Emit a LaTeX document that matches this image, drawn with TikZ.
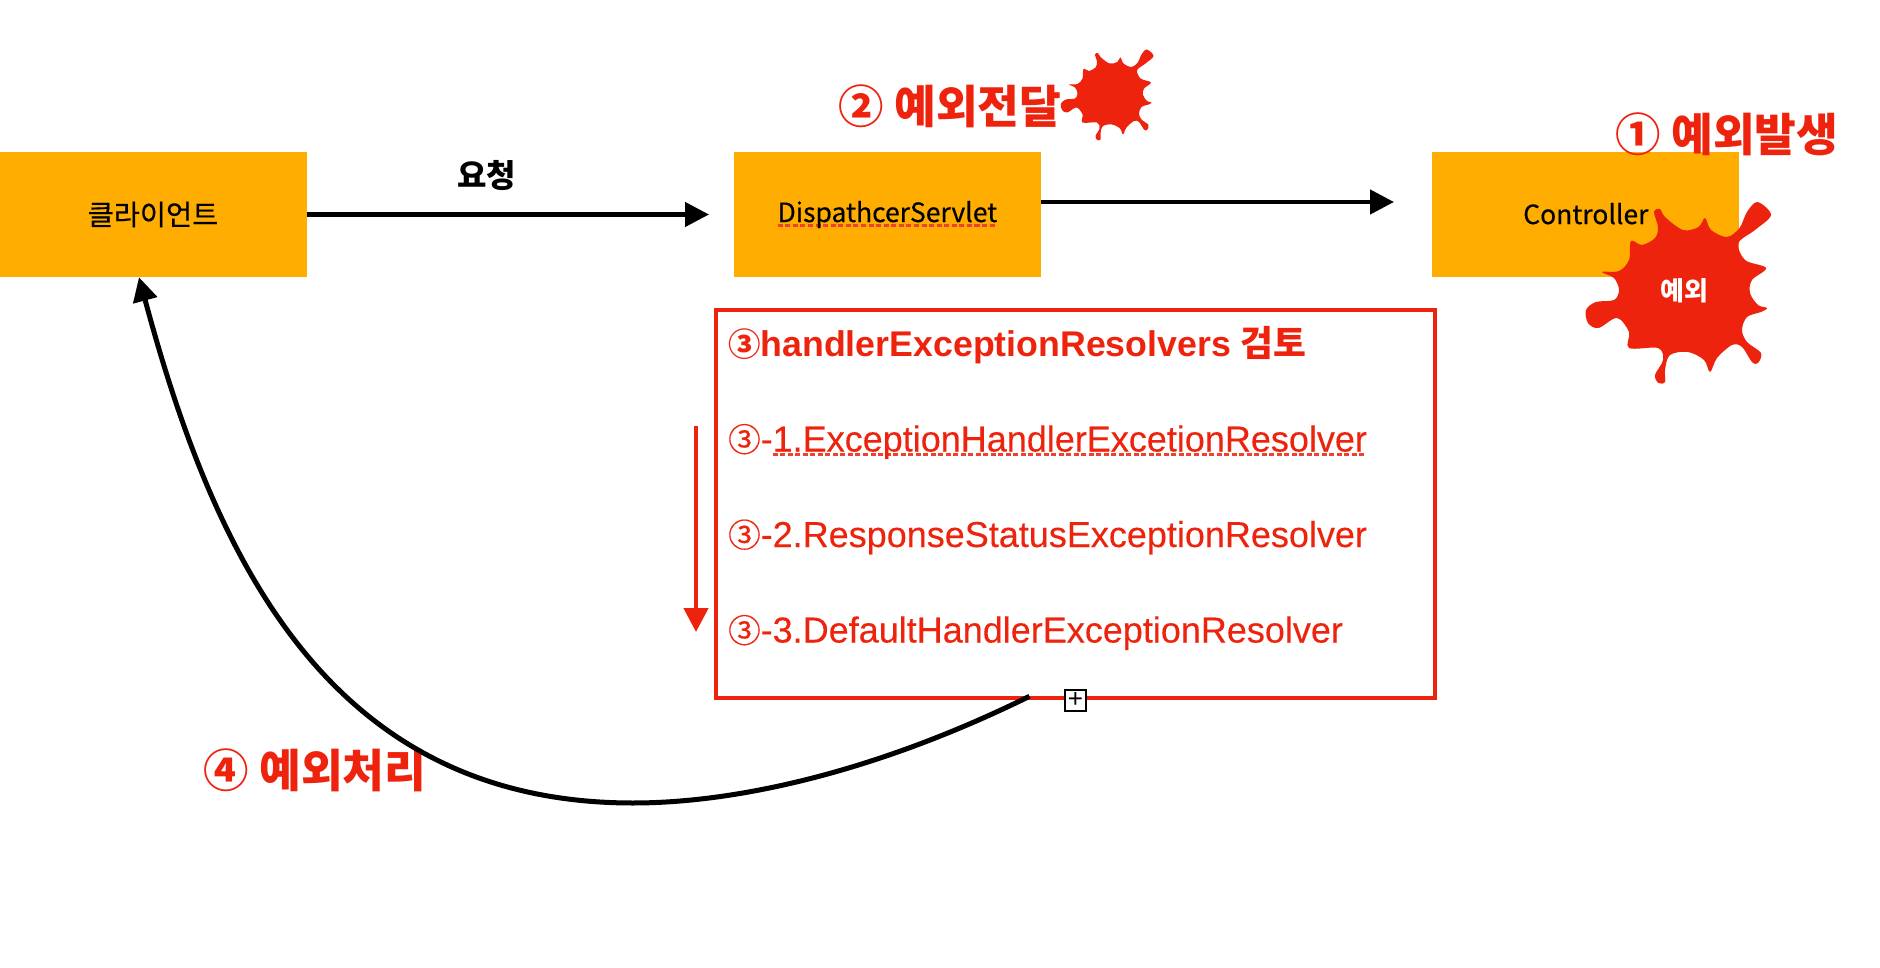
\documentclass[tikz,border=0pt]{standalone}
\usepackage{fontspec}
\usepackage{xcolor}
\setmainfont{Liberation Sans}
\newfontfamily\stepfont[FakeBold=0.2]{Liberation Sans}
\newfontfamily\krfont{Noto Sans CJK KR}
\newfontfamily\krmedium[FakeBold=0.4]{Noto Sans CJK KR}
\usetikzlibrary{arrows.meta,positioning}

\definecolor{boxorange}{HTML}{FFAD00}
\definecolor{alertred}{HTML}{EE230D}
\definecolor{spellred}{HTML}{F2402E}

\newcommand{\spellmark}[1]{\setbox0\hbox{#1}\rlap{\color{spellred}\raisebox{-4.5pt}{\hbox to\wd0{\xleaders\hbox{\rule{5pt}{3pt}\hspace{2.5pt}}\hfill}}}\box0}
\newcommand{\stepnum}{{\krmedium\fontsize{32.5}{42}\selectfont ③}}

\tikzset{
  pics/splat/.style={code={
    \fill[alertred] plot[smooth cycle, tension=0.55] coordinates {
      (79.5,-91) (93,-78) (77,-63) (60.5,-50) (67,-33) (88,-25) (74,-13) (72,0)
      (80,12) (89,15) (83,19) (69,24) (64,37) (69,49) (83,60) (80,70) (74,69)
      (64,54) (54,52) (39,65) (32,79) (26,67) (10,59) (-8,62) (-13,77) (-13,89)
      (-19.5,90) (-23,82) (-15,67) (-20,55) (-49,55) (-49,39) (-61,25) (-79.5,35)
      (-90,30) (-92,17) (-82,9) (-64,7) (-59,-3) (-64,-15) (-76,-21) (-59,-22)
      (-49,-33) (-47,-52) (-36,-48) (-23,-55) (-20,-66) (-24,-81) (-18,-84)
      (-13,-76) (5,-63) (20.5,-66) (27,-75) (33,-63) (49,-56) (61.5,-65) (69,-81)
    };
  }}
}

\begin{document}
\begin{tikzpicture}[
  x=1pt, y=-1pt,
  node distance=427pt,
  box/.style={fill=boxorange, minimum width=307pt, minimum height=125pt, inner sep=0pt, align=center, font=\krmedium\fontsize{26.5}{30}\selectfont},
  resultbox/.style={draw=alertred, line width=4.6pt, fill=white, minimum width=719pt, minimum height=388pt},
  tag/.style={text=alertred, inner sep=0pt, font=\krfont\bfseries\fontsize{45.4}{52}\selectfont},
  steptext/.style={text=alertred, inner sep=0pt, text height=28pt, text depth=8pt, font=\stepfont\fontsize{36}{42}\selectfont},
  arr/.style={-{Triangle[length=24pt,width=24pt]}, line width=4.5pt},
  redarr/.style={-{Triangle[length=24pt,width=24pt]}, line width=4.5pt, draw=alertred}
]
  \useasboundingbox (0,0) rectangle (1880,968);

  % top row
  \node[box] (client) at (153,214.5) {\fontsize{28.4}{30}\selectfont\raisebox{1pt}{클라이언트}};
  \node[box, right=of client] (dispatcher) {\spellmark{DispathcerServlet}};
  \node[box, right=391pt of dispatcher] (controller) {\raisebox{2pt}{Controller}};
  \node[font=\krfont\bfseries\fontsize{32}{38}\selectfont, inner sep=0pt] (request) at (486.5,176) {요청};

  \coordinate (requestend) at (709,214.5);
  \coordinate (forwardend) at (1394,202);
  \draw[arr] (client.east) -- (requestend);
  \draw[arr] ([yshift=12.5pt]dispatcher.east) -- (forwardend);

  % splats and tags
  \pic at (1678,293) {splat};
  \pic[scale=0.5] at (1107,95) {splat};
  \node[text=white, inner sep=0pt, font=\krfont\bfseries\fontsize{26}{30}\selectfont] (thrown) at (1684,291) {예외};
  \node[tag] (tagone) at (1727,134) {① 예외발생};
  \node[tag] (tagtwo) at (950,106) {② 예외전달};
  \node[tag] (tagfour) at (315,770) {④ 예외처리};

  % resolver list
  \node[resultbox] (results) at (1075.5,504) {};
  \node[steptext, anchor=west, font=\bfseries\fontsize{35.7}{42}\selectfont] (title) at (728,346) {{\krfont\bfseries\fontsize{32.5}{42}\selectfont ③}handlerExceptionResolvers {\krfont\bfseries 검토}};
  \node[steptext, below=95.5pt of title.west, anchor=west] (stepone) {\stepnum-\spellmark{1.ExceptionHandlerExcetionResolver}};
  \node[steptext, below=95.5pt of stepone.west, anchor=west] (steptwo) {\stepnum-2.ResponseStatusExceptionResolver};
  \node[steptext, below=95.5pt of steptwo.west, anchor=west] (stepthree) {\stepnum-3.DefaultHandlerExceptionResolver};

  \coordinate (ordertop) at (696,426);
  \coordinate (orderend) at (696,632);
  \draw[redarr] (ordertop) -- (orderend);

  % way back to the client
  \draw[line width=5pt, -{Triangle[length=24pt,width=24pt]}] ([xshift=-46pt,yshift=4pt]results.south) .. controls (880,770) and (740,803) .. (633,803) .. controls (330,803) and (215,560) .. ([xshift=-14pt]client.south);
  \node[draw, fill=white, line width=1.5pt, minimum size=21pt, inner sep=0pt, font=\fontsize{26}{26}\selectfont] (expand) at (results.south) {+};
\end{tikzpicture}
\end{document}
